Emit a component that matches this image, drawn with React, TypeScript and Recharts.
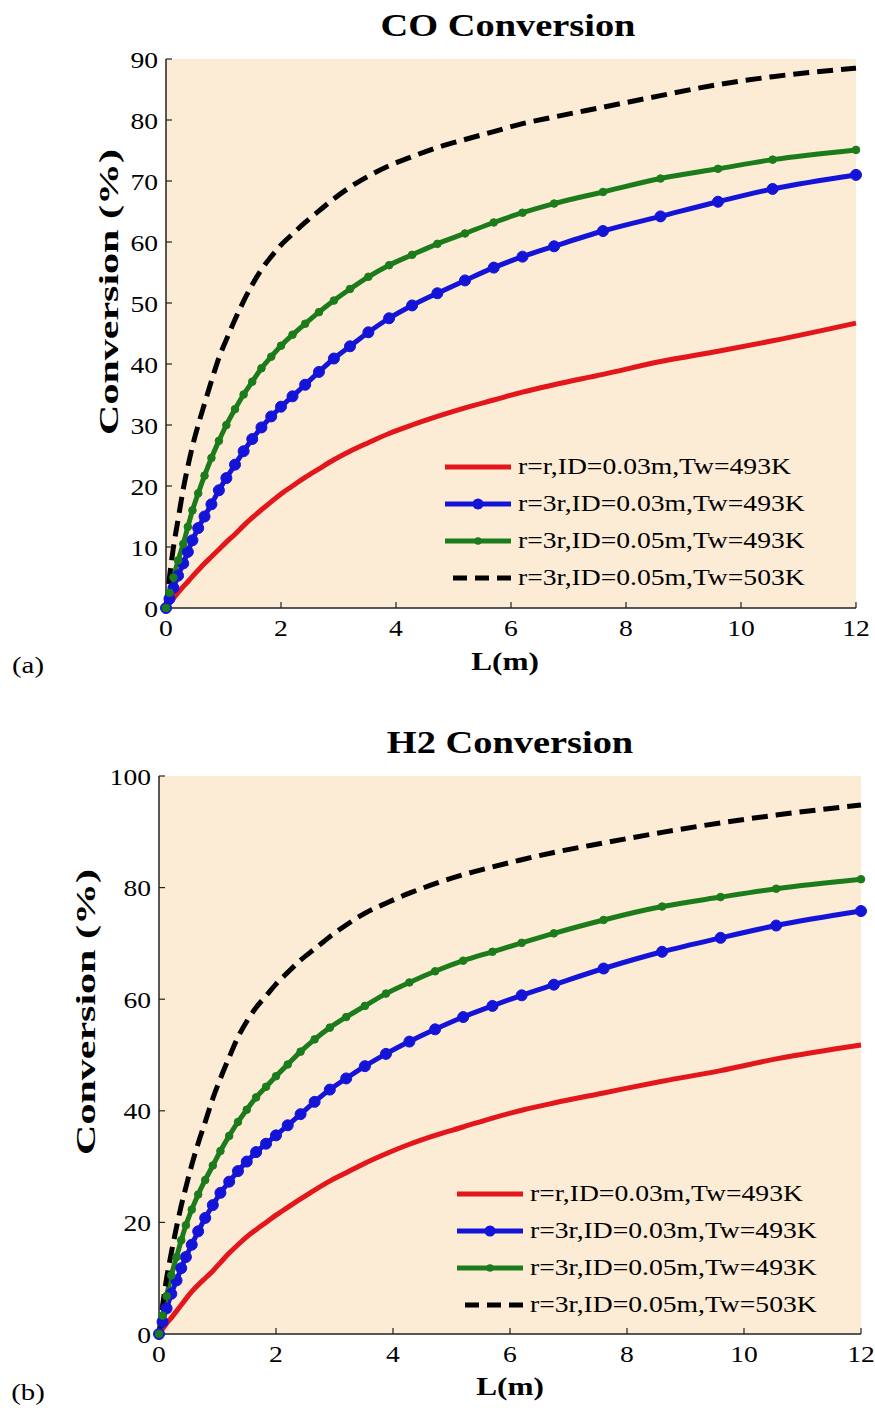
import React from 'react';
import { LineChart, Line, XAxis, YAxis, CartesianGrid, Legend } from 'recharts';

// reactor length grid (m), shared by every curve; markers sit on these points
const L_POINTS = [
  0, 0.06, 0.13, 0.21, 0.3, 0.38, 0.46, 0.56, 0.67, 0.79, 0.92, 1.05, 1.2, 1.35, 1.5, 1.66, 1.83, 2.0,
  2.2, 2.42, 2.66, 2.92, 3.2, 3.52, 3.88, 4.28, 4.72, 5.2, 5.7, 6.2, 6.75, 7.6, 8.6, 9.6, 10.55, 12,
];

// CO conversion (%)
const CO_R_ID003_493 = [
  0, 0.8, 1.6, 2.5, 3.5, 4.3, 5.2, 6.2, 7.3, 8.4, 9.6, 10.8, 12.1, 13.5, 14.8, 16.1, 17.4, 18.7,
  20, 21.4, 22.8, 24.3, 25.7, 27.1, 28.6, 30, 31.4, 32.8, 34.1, 35.4, 36.6, 38.3, 40.4, 42.1, 43.8, 46.7,
];
const CO_3R_ID003_493 = [
  0, 1.5, 3.3, 5.3, 7.3, 9.2, 11.1, 13.1, 15, 17, 19.3, 21.3, 23.5, 25.7, 27.7, 29.6, 31.4, 33,
  34.7, 36.6, 38.7, 40.9, 42.9, 45.2, 47.5, 49.6, 51.6, 53.7, 55.8, 57.6, 59.3, 61.8, 64.2, 66.6, 68.7, 71,
];
const CO_3R_ID005_493 = [
  0, 2.5, 5, 7.8, 10.5, 13.3, 16, 18.8, 21.7, 24.6, 27.4, 30, 32.6, 35, 37.1, 39.3, 41.2, 43,
  44.8, 46.6, 48.5, 50.4, 52.3, 54.3, 56.2, 57.9, 59.7, 61.4, 63.2, 64.8, 66.3, 68.2, 70.4, 72, 73.5, 75.1,
];
const CO_3R_ID005_503 = [
  0, 5, 10, 14.5, 19.5, 23.2, 26.5, 30, 33.5, 37.2, 41, 44, 47.3, 50.3, 53, 55.5, 57.6, 59.5,
  61.3, 63.2, 65.1, 67.1, 69, 70.8, 72.5, 74, 75.5, 76.8, 78.1, 79.4, 80.5, 82.1, 84, 85.8, 87.1, 88.5,
];

// H2 conversion (%)
const H2_R_ID003_493 = [
  0, 0.9, 1.9, 2.9, 4.1, 5.2, 6.3, 7.6, 8.8, 10, 11.3, 12.8, 14.5, 16, 17.4, 18.7, 20, 21.3,
  22.7, 24.2, 25.8, 27.4, 28.9, 30.6, 32.3, 34, 35.6, 37.1, 38.7, 40.1, 41.4, 43.2, 45.3, 47.2, 49.3, 51.8,
];
const H2_3R_ID003_493 = [
  0, 2.2, 4.6, 7.2, 9.6, 11.8, 13.8, 16, 18.4, 20.8, 23.1, 25.3, 27.3, 29.2, 30.9, 32.6, 34.1, 35.6,
  37.4, 39.4, 41.6, 43.8, 45.8, 48, 50.2, 52.4, 54.6, 56.8, 58.8, 60.7, 62.6, 65.5, 68.5, 71, 73.2, 75.8,
];
const H2_3R_ID005_493 = [
  0, 3.3, 6.8, 10.5, 13.8, 16.8, 19.5, 22.3, 25, 27.6, 30.2, 32.8, 35.5, 38, 40.2, 42.4, 44.3, 46.2,
  48.3, 50.6, 52.8, 54.9, 56.8, 58.8, 61, 63, 65, 66.9, 68.5, 70.1, 71.8, 74.2, 76.6, 78.3, 79.8, 81.5,
];
const H2_3R_ID005_503 = [
  0, 5, 10, 14.5, 19.2, 23, 26.3, 30.3, 34.2, 38, 42.2, 45.8, 49.6, 53.2, 56, 58.5, 60.6, 62.7,
  64.8, 67, 69, 71.2, 73.3, 75.4, 77.2, 79, 80.7, 82.3, 83.7, 85, 86.3, 88, 89.9, 91.6, 93, 94.8,
];

const X_TICKS = [0, 2, 4, 6, 8, 10, 12];
const CO_TICKS = [0, 10, 20, 30, 40, 50, 60, 70, 80, 90];
const H2_TICKS = [0, 20, 40, 60, 80, 100];

const SERIES_NAMES = [
  'r=r,ID=0.03m,Tw=493K',
  'r=3r,ID=0.03m,Tw=493K',
  'r=3r,ID=0.05m,Tw=493K',
  'r=3r,ID=0.05m,Tw=503K',
];

const FONT = '"Liberation Serif", "Times New Roman", serif';
const BG = '#fcebd5';
const RED = '#e3161b';
const BLUE = '#1414d9';
const GREEN = '#1c7c1c';
const BLACK = '#000000';

const STYLES = [
  { key: 'a', color: RED, dash: undefined as string | undefined, dot: 0 },
  { key: 'b', color: BLUE, dash: undefined as string | undefined, dot: 5.5 },
  { key: 'c', color: GREEN, dash: undefined as string | undefined, dot: 3.8 },
  { key: 'd', color: BLACK, dash: '16 8' as string | undefined, dot: 0 },
];

const buildRows = (a: number[], b: number[], c: number[], d: number[]) =>
  L_POINTS.map((L, i) => ({ L, a: a[i], b: b[i], c: c[i], d: d[i] }));

const coRows = buildRows(CO_R_ID003_493, CO_3R_ID003_493, CO_3R_ID005_493, CO_3R_ID005_503);
const h2Rows = buildRows(H2_R_ID003_493, H2_3R_ID003_493, H2_3R_ID005_493, H2_3R_ID005_503);

const XTick = (props: any) => {
  const { x, y, payload } = props;
  return (
    <text
      x={x}
      y={y}
      dy="0.72em"
      textAnchor="middle"
      fontFamily={FONT}
      fontSize={24}
      fill="#000"
      transform={`translate(${x} 0) scale(1.15 1) translate(${-x} 0)`}
    >
      {payload.value}
    </text>
  );
};

const YTick = (props: any) => {
  const { x, y, payload } = props;
  return (
    <text
      x={x}
      y={y}
      dy="0.36em"
      textAnchor="end"
      fontFamily={FONT}
      fontSize={24}
      fill="#000"
      transform={`translate(${x} 0) scale(1.15 1) translate(${-x} 0)`}
    >
      {payload.value}
    </text>
  );
};

const LegendRows = () => (
  <div>
    {STYLES.map((s, i) => (
      <div key={s.key} style={{ height: 37, display: 'flex', alignItems: 'center', whiteSpace: 'nowrap' }}>
        <svg width={66} height={20}>
          {s.dash ? (
            <line x1={8} y1={10} x2={66} y2={10} stroke={s.color} strokeWidth={5} strokeDasharray="14 8" />
          ) : (
            <line x1={0} y1={10} x2={66} y2={10} stroke={s.color} strokeWidth={5} />
          )}
          {s.dot > 0 && <circle cx={33} cy={10} r={s.dot} fill={s.color} />}
        </svg>
        <span
          style={{
            marginLeft: 7,
            fontFamily: FONT,
            fontSize: 23,
            color: '#000',
            display: 'inline-block',
            transform: 'scaleX(1.2)',
            transformOrigin: 'left center',
          }}
        >
          {SERIES_NAMES[i]}
        </span>
      </div>
    ))}
  </div>
);

type PanelProps = {
  rows: typeof coRows;
  top: number;
  height: number;
  margin: { top: number; right: number; bottom: number; left: number };
  yMax: number;
  yTicks: number[];
  legendPos: { left: number; top: number };
};

const Panel = ({ rows, top, height, margin, yMax, yTicks, legendPos }: PanelProps) => (
  <div style={{ position: 'absolute', left: 0, top }}>
    <LineChart width={875} height={height} data={rows} margin={margin}>
      <CartesianGrid horizontal={false} vertical={false} fill={BG} stroke="none" />
      <XAxis
        dataKey="L"
        type="number"
        domain={[0, 12]}
        ticks={X_TICKS}
        height={30}
        tickSize={-6}
        tickMargin={17}
        tick={<XTick />}
        axisLine={{ stroke: '#222', strokeWidth: 1.5 }}
        tickLine={{ stroke: '#222', strokeWidth: 1.2 }}
      />
      <XAxis
        xAxisId="top"
        orientation="top"
        dataKey="L"
        type="number"
        domain={[0, 12]}
        ticks={X_TICKS}
        height={0}
        tickSize={-6}
        tick={false}
        axisLine={{ stroke: '#222', strokeWidth: 1.5 }}
        tickLine={{ stroke: '#222', strokeWidth: 1.2 }}
      />
      <YAxis
        type="number"
        domain={[0, yMax]}
        ticks={yTicks}
        width={60}
        tickSize={-6}
        tickMargin={14}
        tick={<YTick />}
        axisLine={{ stroke: '#222', strokeWidth: 1.5 }}
        tickLine={{ stroke: '#222', strokeWidth: 1.2 }}
      />
      <YAxis
        yAxisId="right"
        orientation="right"
        type="number"
        domain={[0, yMax]}
        ticks={yTicks}
        width={0}
        tickSize={-6}
        tick={false}
        axisLine={{ stroke: '#222', strokeWidth: 1.5 }}
        tickLine={{ stroke: '#222', strokeWidth: 1.2 }}
      />
      {STYLES.map((s) => (
        <Line
          key={s.key}
          dataKey={s.key}
          type="monotone"
          stroke={s.color}
          strokeWidth={5}
          strokeDasharray={s.dash}
          dot={s.dot > 0 ? { r: s.dot, fill: s.color, stroke: s.color, strokeWidth: 1 } : false}
          activeDot={false}
          isAnimationActive={false}
        />
      ))}
      <Legend
        layout="vertical"
        align="center"
        verticalAlign="middle"
        content={() => <LegendRows />}
        wrapperStyle={{ left: legendPos.left, top: legendPos.top, width: 430, height: 148 }}
      />
    </LineChart>
  </div>
);

const Label = ({
  x,
  y,
  size,
  bold,
  sx,
  rotate,
  children,
}: {
  x: number;
  y: number;
  size: number;
  bold?: boolean;
  sx: number;
  rotate?: boolean;
  children: React.ReactNode;
}) => (
  <div
    style={{
      position: 'absolute',
      left: x,
      top: y,
      fontFamily: FONT,
      fontSize: size,
      fontWeight: bold ? 'bold' : 'normal',
      lineHeight: 1,
      whiteSpace: 'nowrap',
      color: '#000',
      transform: `translate(-50%, -50%)${rotate ? ' rotate(-90deg)' : ''} scaleX(${sx})`,
    }}
  >
    {children}
  </div>
);

export default function App() {
  return (
    <div style={{ position: 'absolute', left: 0, top: 0, width: 875, height: 1414, background: '#fff', overflow: 'hidden' }}>
      <Panel
        rows={coRows}
        top={0}
        height={700}
        margin={{ top: 59, right: 19, bottom: 62, left: 106 }}
        yMax={90}
        yTicks={CO_TICKS}
        legendPos={{ left: 445, top: 448 }}
      />
      <Panel
        rows={h2Rows}
        top={710}
        height={704}
        margin={{ top: 66, right: 14, bottom: 50, left: 99 }}
        yMax={100}
        yTicks={H2_TICKS}
        legendPos={{ left: 457, top: 465 }}
      />
      <Label x={508} y={25} size={32} bold sx={1.2}>CO Conversion</Label>
      <Label x={505} y={661} size={25} bold sx={1.25}>L(m)</Label>
      <Label x={109} y={292} size={28} bold sx={1.5} rotate>Conversion (%)</Label>
      <Label x={28} y={665} size={24} sx={1.2}>(a)</Label>

      <Label x={510} y={742} size={32} bold sx={1.2}>H2 Conversion</Label>
      <Label x={510} y={1386} size={25} bold sx={1.25}>L(m)</Label>
      <Label x={86} y={1012} size={28} bold sx={1.5} rotate>Conversion (%)</Label>
      <Label x={28} y={1392} size={24} sx={1.2}>(b)</Label>
    </div>
  );
}
